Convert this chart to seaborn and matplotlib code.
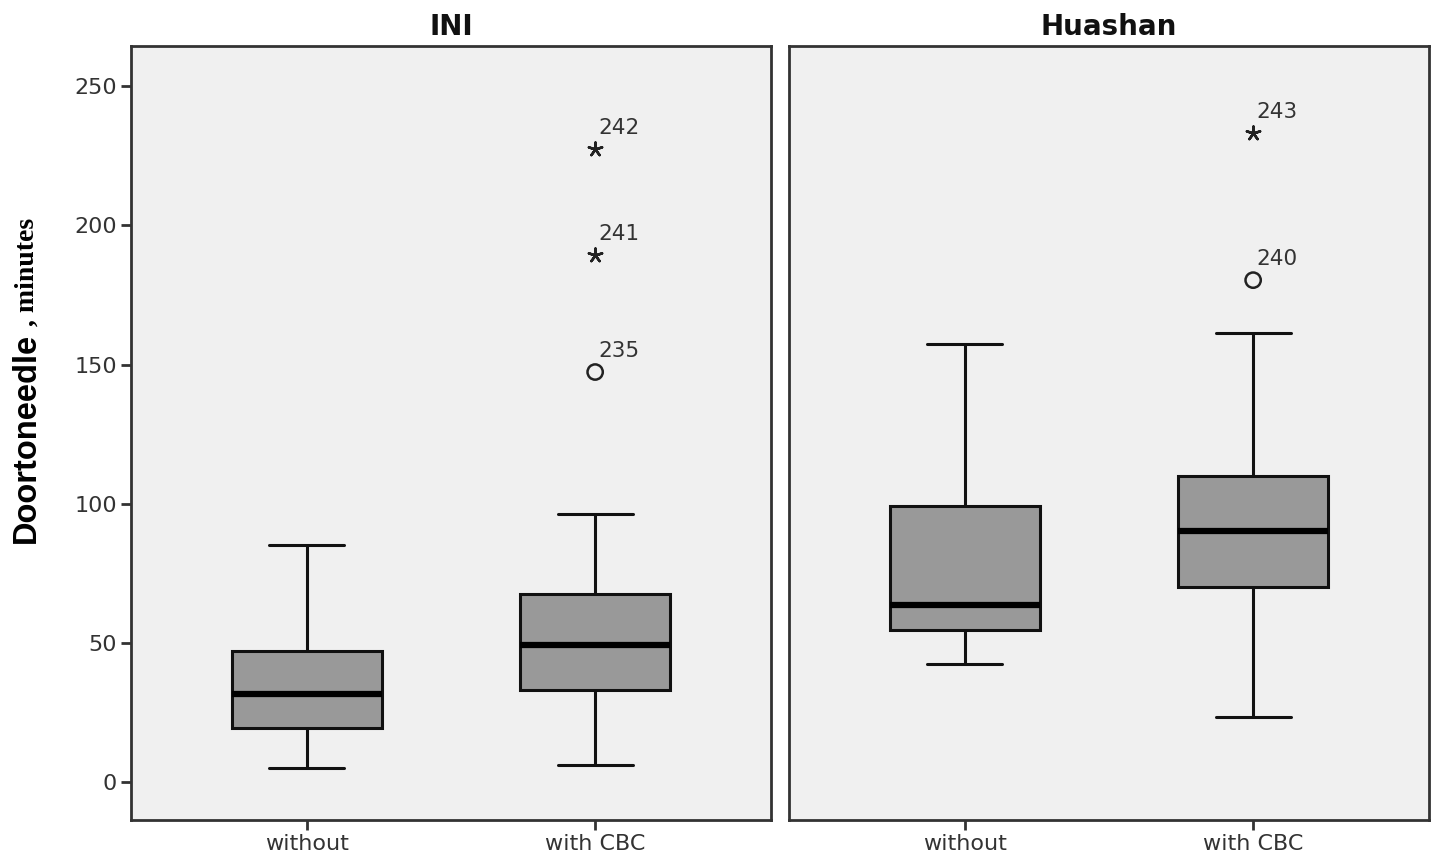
import numpy as np
import pandas as pd
import matplotlib
matplotlib.use('Agg')
import matplotlib.pyplot as plt
import seaborn as sns

# Categories and panels
sites = ['INI', 'Huashan']
groups = ['without', 'with CBC']

# Five-number summaries (whisker low, Q1, median, Q3, whisker high)
ini_without = [5.0, 19.4, 31.6, 47.1, 85.1]
ini_with_cbc = [6.1, 33.0, 49.2, 67.5, 96.3]
huashan_without = [42.4, 54.6, 63.6, 99.1, 157.3]
huashan_with_cbc = [23.3, 70.0, 90.2, 109.9, 161.3]

# Outliers (site, group, value, marker kind, case id)
out_site = ['INI', 'INI', 'INI', 'Huashan', 'Huashan']
out_group = ['with CBC', 'with CBC', 'with CBC', 'with CBC', 'with CBC']
out_value = [227.4, 189.3, 147.3, 233.1, 180.3]
out_kind = ['extreme', 'extreme', 'outlier', 'extreme', 'outlier']
out_id = ['242', '241', '235', '243', '240']

y_ticks = [0, 50, 100, 150, 200, 250]

summaries = {
    ('INI', 'without'): ini_without,
    ('INI', 'with CBC'): ini_with_cbc,
    ('Huashan', 'without'): huashan_without,
    ('Huashan', 'with CBC'): huashan_with_cbc,
}
rows = []
for (site, grp), vals in summaries.items():
    for v in vals:
        rows.append({'site': site, 'group': grp, 'minutes': v})
df = pd.DataFrame(rows)

outs = pd.DataFrame({'site': out_site, 'group': out_group, 'minutes': out_value,
                     'kind': out_kind, 'case': out_id})

sns.set_style('white')
plt.rcParams['font.family'] = ['DejaVu Sans']

fig = plt.figure(figsize=(14.35, 8.61), dpi=100)
fig.patch.set_facecolor('white')
ax_w = 640 / 1435
ax_h = 774 / 861
ax_y = 1 - 820 / 861
axes = [fig.add_axes([131 / 1435, ax_y, ax_w, ax_h]),
        fig.add_axes([789 / 1435, ax_y, ax_w, ax_h])]

text_col = '#333333'
for ax, site in zip(axes, sites):
    ax.set_facecolor('#f0f0f0')
    sub = df[df['site'] == site]
    sns.boxplot(data=sub, x='group', y='minutes', order=groups, ax=ax,
                whis=(0, 100), width=0.52, color='#999999', saturation=1,
                showfliers=False, linecolor='#111111', linewidth=2.2,
                medianprops={'color': 'black', 'linewidth': 4.5})

    so = outs[outs['site'] == site]
    ext = so[so['kind'] == 'extreme']
    mild = so[so['kind'] == 'outlier']
    if len(ext):
        sns.stripplot(data=ext, x='group', y='minutes', order=groups, ax=ax,
                      jitter=False, marker=(5, 2, 0), size=10, color='#222222',
                      linewidth=1.8, edgecolor='#222222')
    if len(mild):
        sns.stripplot(data=mild, x='group', y='minutes', order=groups, ax=ax,
                      jitter=False, marker='o', size=11, color='#222222',
                      linewidth=1.8, edgecolor='#222222')
        ax.collections[-1].set_facecolor('none')
    for _, r in so.iterrows():
        ax.annotate(r['case'], (groups.index(r['group']), r['minutes']),
                    xytext=(2, 8), textcoords='offset points',
                    ha='left', va='bottom', fontsize=15.5, color=text_col)

    ax.set_xlim(-0.61, 1.61)
    ax.set_ylim(-13.6, 264.4)
    ax.set_xlabel('')
    ax.set_ylabel('')
    ax.set_title(site, fontsize=20, fontweight='bold', pad=8, color='#111111')
    for sp in ax.spines.values():
        sp.set_visible(True)
        sp.set_color('#333333')
        sp.set_linewidth(2)
    ax.tick_params(axis='x', bottom=True, length=7, width=2, color='#333333',
                   labelsize=16, labelcolor=text_col, pad=3)
    ax.grid(False)

axes[0].set_yticks(y_ticks)
axes[0].tick_params(axis='y', left=True, length=7, width=2, color='#333333',
                    labelsize=16, labelcolor=text_col, pad=3)
axes[1].set_yticks(y_ticks)
axes[1].tick_params(axis='y', left=False, labelleft=False)

# y axis label in two fonts, as in the original
fig.text(26 / 1435, 1 - 543 / 861, 'Doortoneedle', rotation=90,
         ha='center', va='bottom', fontsize=23.5, fontweight='bold',
         family=['Liberation Sans', 'DejaVu Sans'], color='black')
fig.text(27 / 1435, 1 - 333 / 861, ' , minutes', rotation=90,
         ha='center', va='bottom', fontsize=20, fontweight='bold',
         family=['Liberation Serif', 'DejaVu Serif'], color='black')

fig.savefig('out.png', dpi=100, facecolor='white')
